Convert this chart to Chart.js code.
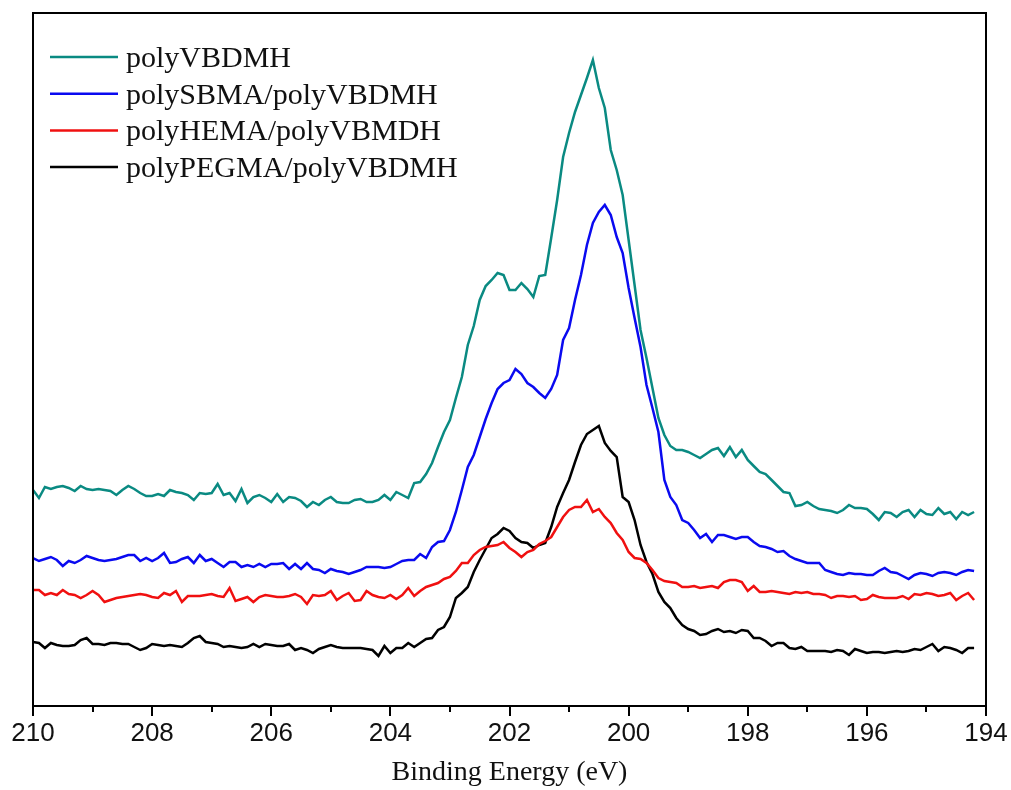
<!DOCTYPE html>
<html>
<head>
<meta charset="utf-8">
<script src="https://cdn.jsdelivr.net/npm/chart.js@4.4.1/dist/chart.umd.min.js"></script>
<style>
  html, body { margin: 0; padding: 0; background: #fff; }
  #wrap { width: 1011px; height: 790px; }
</style>
</head>
<body>
<div id="wrap"><canvas id="chXps" width="1011" height="790"></canvas></div>
<script>
// binding energy grid (eV), 0.1 eV steps
var energies = [
  210.0,209.9,209.8,209.7,209.6,209.5,209.4,209.3,209.2,209.1,
  209.0,208.9,208.8,208.7,208.6,208.5,208.4,208.3,208.2,208.1,
  208.0,207.9,207.8,207.7,207.6,207.5,207.4,207.3,207.2,207.1,
  207.0,206.9,206.8,206.7,206.6,206.5,206.4,206.3,206.2,206.1,
  206.0,205.9,205.8,205.7,205.6,205.5,205.4,205.3,205.2,205.1,
  205.0,204.9,204.8,204.7,204.6,204.5,204.4,204.3,204.2,204.1,
  204.0,203.9,203.8,203.7,203.6,203.5,203.4,203.3,203.2,203.1,
  203.0,202.9,202.8,202.7,202.6,202.5,202.4,202.3,202.2,202.1,
  202.0,201.9,201.8,201.7,201.6,201.5,201.4,201.3,201.2,201.1,
  201.0,200.9,200.8,200.7,200.6,200.5,200.4,200.3,200.2,200.1,
  200.0,199.9,199.8,199.7,199.6,199.5,199.4,199.3,199.2,199.1,
  199.0,198.9,198.8,198.7,198.6,198.5,198.4,198.3,198.2,198.1,
  198.0,197.9,197.8,197.7,197.6,197.5,197.4,197.3,197.2,197.1,
  197.0,196.9,196.8,196.7,196.6,196.5,196.4,196.3,196.2,196.1,
  196.0,195.9,195.8,195.7,195.6,195.5,195.4,195.3,195.2,195.1,
  195.0,194.9,194.8,194.7,194.6,194.5,194.4,194.3,194.2
];

// intensities (a.u., stacked offsets as in the figure)
var polyVBDMH = [
  216,208,219,217,219,220,218,215,220,217,
  216,217,216,215,211,216,220,217,213,210,
  210,212,210,216,214,213,211,206,213,212,
  213,222,211,213,205,217,203,209,211,208,
  204,212,204,209,208,205,199,204,201,206,
  209,204,203,203,206,207,204,204,206,211,
  206,214,211,208,223,224,232,243,259,274,
  286,308,329,361,380,406,420,426,433,431,
  416,416,423,417,409,430,431,468,506,549,
  573,594,611,628,646,618,598,556,536,511,
  466,421,376,348,318,288,271,260,256,256,
  254,251,248,252,256,258,250,259,249,256,
  246,240,234,232,226,220,214,213,200,201,
  204,200,197,196,195,193,196,201,198,198,
  197,192,186,194,193,189,194,196,189,196,
  192,191,198,192,194,187,194,191,194
];
var polySBMA = [
  148,145,147,149,146,140,145,143,146,150,
  148,146,145,146,147,149,151,151,145,148,
  145,148,153,143,144,147,149,143,151,145,
  147,143,139,144,144,139,141,139,142,139,
  142,142,143,137,142,137,143,137,136,133,
  137,135,134,132,134,136,139,139,139,138,
  139,142,145,146,146,152,148,159,164,165,
  176,194,216,239,251,269,287,303,317,323,
  326,337,332,323,319,313,308,317,331,366,
  378,406,431,461,483,494,501,491,469,453,
  418,388,359,321,298,274,226,209,201,186,
  183,176,168,172,164,171,171,169,167,169,
  169,164,160,159,157,154,155,150,147,145,
  143,143,143,136,134,132,131,133,132,132,
  131,131,135,138,134,133,130,127,131,133,
  132,130,133,134,133,131,134,136,135
];
var polyHEMA = [
  116,116,111,113,111,116,112,111,108,111,
  115,111,104,106,108,109,110,111,112,111,
  109,108,113,111,115,104,110,110,110,111,
  112,110,109,118,105,107,109,104,109,111,
  110,109,109,110,112,109,102,111,110,111,
  115,106,110,113,105,106,115,111,109,108,
  111,107,111,118,110,115,119,121,123,127,
  129,135,143,143,151,156,159,160,161,164,
  158,154,149,154,156,162,165,169,179,189,
  196,199,199,206,194,197,189,183,173,166,
  154,148,147,143,136,128,125,124,123,119,
  119,120,118,119,120,118,124,126,126,124,
  115,120,114,114,115,114,113,112,114,113,
  114,112,112,111,108,110,110,109,110,106,
  107,111,109,108,108,108,110,107,112,111,
  113,112,110,111,113,106,110,113,106
];
var polyPEGMA = [
  64,63,58,63,61,60,60,61,66,68,
  62,62,61,63,63,62,62,59,56,58,
  62,61,60,61,60,59,63,68,70,64,
  63,62,59,60,59,58,59,62,59,62,
  61,60,60,62,56,58,56,53,57,59,
  61,59,58,58,58,58,57,56,50,60,
  53,58,58,63,59,63,67,68,76,79,
  89,108,113,119,134,146,157,168,172,178,
  175,168,164,163,158,161,163,179,199,213,
  226,244,261,272,276,280,263,255,249,209,
  204,186,161,144,132,114,104,98,88,81,
  77,75,71,72,75,77,74,75,73,76,
  75,68,68,65,60,63,63,58,57,59,
  55,55,55,55,54,56,55,51,57,55,
  53,54,54,53,54,55,54,55,57,56,
  59,62,55,59,58,56,53,58,58
];

var seriesNames = ["polyVBDMH", "polySBMA/polyVBDMH", "polyHEMA/polyVBMDH", "polyPEGMA/polyVBDMH"];
var seriesData = [polyVBDMH, polySBMA, polyHEMA, polyPEGMA];
var colors = ["#0a8a82", "#0a0af0", "#f01010", "#000000"];

function toPoints(vals) {
  return vals.map(function (v, i) { return { x: energies[i], y: v }; });
}

// box around the plot + minor ticks at odd eV
var frame = {
  id: "frame",
  afterDraw: function (chart) {
    var a = chart.chartArea, ctx = chart.ctx, sx = chart.scales.x;
    ctx.save();
    ctx.strokeStyle = "#000";
    ctx.lineWidth = 2;
    ctx.strokeRect(a.left, a.top, a.right - a.left, a.bottom - a.top);
    ctx.beginPath();
    for (var v = 195; v < 210; v += 2) {
      var px = Math.round(sx.getPixelForValue(v));
      ctx.moveTo(px, a.bottom);
      ctx.lineTo(px, a.bottom + 6);
    }
    ctx.stroke();
    ctx.restore();
  }
};

// legend drawn in the upper left of the plot
var insideLegend = {
  id: "insideLegend",
  afterDraw: function (chart) {
    var a = chart.chartArea, ctx = chart.ctx;
    ctx.save();
    ctx.font = '30px "Liberation Serif", "Times New Roman", serif';
    ctx.textBaseline = "alphabetic";
    chart.data.datasets.forEach(function (ds, i) {
      var y = a.top + 44 + i * 36.7;
      ctx.strokeStyle = ds.borderColor;
      ctx.lineWidth = 2.5;
      ctx.beginPath();
      ctx.moveTo(a.left + 17, y);
      ctx.lineTo(a.left + 85, y);
      ctx.stroke();
      ctx.fillStyle = "#111";
      ctx.fillText(ds.label, a.left + 93, y + 10);
    });
    ctx.restore();
  }
};

var chXps = document.getElementById("chXps");
if (chXps) {
  new Chart(chXps, {
    type: "line",
    data: {
      datasets: seriesNames.map(function (name, i) {
        return {
          label: name,
          data: toPoints(seriesData[i]),
          borderColor: colors[i],
          backgroundColor: colors[i],
          borderWidth: 2.5,
          pointRadius: 0,
          tension: 0,
          fill: false
        };
      })
    },
    options: {
      responsive: false,
      animation: false,
      layout: { padding: { left: 33, right: 25, top: 13, bottom: 0 } },
      plugins: { legend: { display: false }, tooltip: { enabled: false } },
      scales: {
        x: {
          type: "linear",
          reverse: true,
          min: 194,
          max: 210,
          afterFit: function (s) { s.height = 84; },
          ticks: {
            stepSize: 2,
            maxRotation: 0,
            autoSkip: false,
            padding: 2,
            color: "#111",
            font: { family: '"Liberation Sans", Arial, sans-serif', size: 26 }
          },
          grid: { drawOnChartArea: false, drawTicks: true, tickLength: 10, color: "#000", lineWidth: 2 },
          border: { display: true, color: "#000", width: 2 },
          title: {
            display: true,
            text: "Binding Energy (eV)",
            color: "#111",
            padding: { top: 0, bottom: 1 },
            font: { family: '"Liberation Serif", "Times New Roman", serif', size: 28 }
          }
        },
        y: { display: false, min: 0, max: 693 }
      }
    },
    plugins: [frame, insideLegend]
  });
}
</script>
</body>
</html>
